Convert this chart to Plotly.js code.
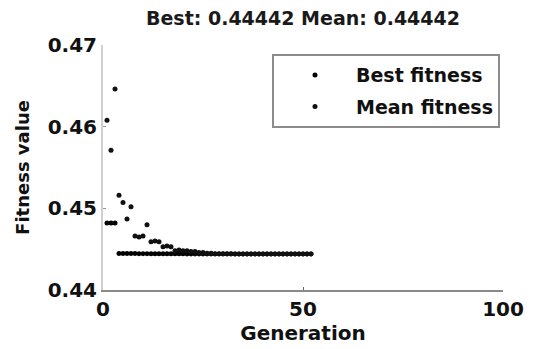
<!DOCTYPE html>
<html>
<head>
<meta charset="utf-8">
<script src="https://cdn.plot.ly/plotly-3.0.1.min.js"></script>
<style>
html,body{margin:0;padding:0;background:#fff;}
#chart{width:544px;height:349px;}
</style>
</head>
<body>
<div id="chart"></div>
<script>
// Generations 1..52
var generations = [1,2,3,4,5,6,7,8,9,10,11,12,13,14,15,16,17,18,19,20,21,22,23,24,25,26,
  27,28,29,30,31,32,33,34,35,36,37,38,39,40,41,42,43,44,45,46,47,48,49,50,51,52];
var bestFitness = [0.4482,0.4482,0.4482,0.44448,0.44448,0.44448,0.44448,0.44448,0.44445,0.44445,
  0.44445,0.44444,0.44444,0.44444,0.44444,0.44443,0.44443,0.44443,0.44443,0.44443,
  0.44442,0.44442,0.44442,0.44442,0.44442,0.44442,0.44442,0.44442,0.44442,0.44442,
  0.44442,0.44442,0.44442,0.44442,0.44442,0.44442,0.44442,0.44442,0.44442,0.44442,
  0.44442,0.44442,0.44442,0.44442,0.44442,0.44442,0.44442,0.44442,0.44442,0.44442,
  0.44442,0.44442];
var meanFitness = [0.4608,0.4571,0.4646,0.4516,0.4507,0.4487,0.4502,0.4466,0.4465,0.4466,
  0.4480,0.4459,0.4460,0.4459,0.4453,0.4454,0.4453,0.4448,0.4449,0.4448,
  0.4448,0.4447,0.4447,0.4446,0.4446,0.4445,0.4445,0.44444,0.44444,0.44443,
  0.44443,0.44443,0.44442,0.44442,0.44442,0.44442,0.44442,0.44442,0.44442,0.44442,
  0.44442,0.44442,0.44442,0.44442,0.44442,0.44442,0.44442,0.44442,0.44442,0.44442,
  0.44442,0.44442];
var xTicks = [0, 50, 100];
var xTickLabels = ['0', '50', '100'];
var yTicks = [0.44, 0.45, 0.46, 0.47];
var yTickLabels = ['0.44', '0.45', '0.46', '0.47'];
var titleText = 'Best: 0.44442 Mean: 0.44442';

var F = 'DejaVu Sans, Verdana, sans-serif';

var traces = [
  {x: generations, y: bestFitness, type: 'scatter', mode: 'markers', name: '<b>Best fitness</b>',
   legendgroup: 'a',
   marker: {color: '#000000', size: 5, symbol: 'circle'}},
  {x: generations, y: meanFitness, type: 'scatter', mode: 'markers', name: '<b>Mean fitness</b>',
   legendgroup: 'b',
   marker: {color: '#111111', size: 5, symbol: 'circle'}}
];

var layout = {
  width: 544, height: 349,
  paper_bgcolor: '#ffffff', plot_bgcolor: '#ffffff',
  margin: {l: 103, r: 41, t: 45, b: 59, pad: 0},
  font: {family: F, color: '#111111', size: 19},
  title: {text: '<b>' + titleText + '</b>', x: 0.5, xref: 'paper', xanchor: 'center',
          y: 1 - 18/349, yref: 'container', yanchor: 'middle',
          font: {family: F, size: 19, color: '#1a1a1a'}},
  xaxis: {range: [0, 100], tickvals: xTicks, ticktext: xTickLabels.map(function(t){return '<b>'+t+'</b>';}),
          showgrid: false, zeroline: false, showline: true, linecolor: '#8a8a8a', linewidth: 2,
          ticks: 'inside', ticklen: 3, tickcolor: '#666666', mirror: false,
          tickfont: {family: F, size: 20, color: '#111111'},
          title: {text: '<b>Generation</b>', font: {family: F, size: 20, color: '#111111'}, standoff: 6}},
  yaxis: {range: [0.44, 0.47], tickvals: yTicks, ticktext: yTickLabels.map(function(t){return '<b>'+t+'</b>';}),
          showgrid: false, zeroline: false, showline: true, linecolor: '#d0d0d0', linewidth: 2,
          ticks: 'inside', ticklen: 3, tickcolor: '#999999', mirror: false,
          tickfont: {family: F, size: 20, color: '#111111'},
          title: {text: '<b>Fitness value</b>', font: {family: F, size: 18, color: '#111111'}, standoff: 13}},
  showlegend: true,
  legend: {x: 0.4225, xanchor: 'left', y: 0.963, yanchor: 'top',
           bgcolor: '#ffffff', bordercolor: '#8c8c8c', borderwidth: 2,
           font: {family: F, size: 19, color: '#111111'},
           itemwidth: 72, tracegroupgap: 4, itemsizing: 'trace'}
};

Plotly.newPlot('chart', traces, layout, {displayModeBar: false, staticPlot: true});
</script>
</body>
</html>
